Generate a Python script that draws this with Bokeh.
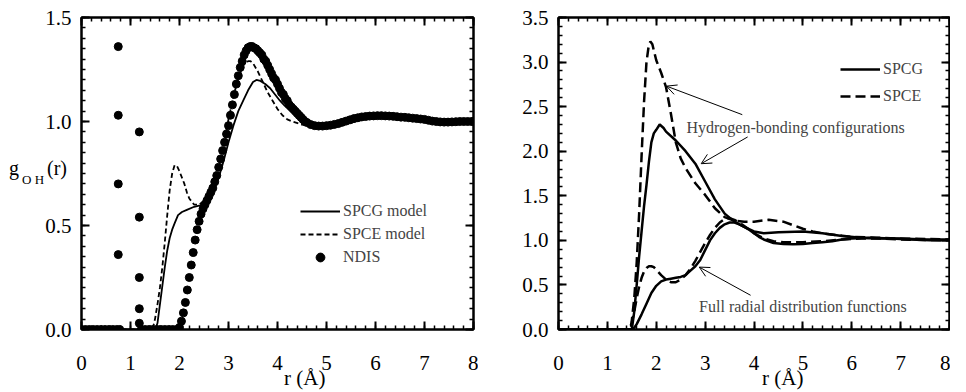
from bokeh.plotting import figure
from bokeh.models import (Range1d, SingleIntervalTicker, LinearAxis, NumeralTickFormatter,
                          Label, Legend, LegendItem, Arrow, OpenHead, CustomJSTickFormatter, Div)
from bokeh.layouts import row
from bokeh.embed import file_html
from bokeh.resources import INLINE

FONT = "Liberation Serif"

# ---------------- Left panel data: g_OH(r) ----------------
# NDIS (experimental) points
ndis_r = [0.00, 0.08, 0.16, 0.24, 0.32, 0.40, 0.48, 0.56, 0.64, 0.72, 0.78,
          0.75, 0.75, 0.75, 0.75,
          1.18, 1.18, 1.18, 1.18, 1.18,
          1.22, 1.30, 1.38, 1.46, 1.54, 1.62, 1.70, 1.78, 1.86, 1.94, 2.00,
          2.04, 2.08, 2.12, 2.16, 2.20, 2.24, 2.28, 2.32, 2.36, 2.40, 2.44, 2.48,
          2.52, 2.56, 2.60, 2.64, 2.68, 2.72, 2.76, 2.80, 2.84, 2.88, 2.92, 2.96,
          3.00, 3.04, 3.08, 3.12, 3.16, 3.20, 3.24, 3.28, 3.32, 3.36, 3.40, 3.44,
          3.48, 3.52, 3.56, 3.60, 3.64, 3.68, 3.72, 3.76, 3.80, 3.84, 3.88, 3.92,
          3.96, 4.00, 4.04, 4.08, 4.12, 4.16, 4.20, 4.24, 4.28, 4.32, 4.36, 4.40,
          4.44, 4.48, 4.52, 4.56, 4.60,
          4.68, 4.76, 4.84, 4.92, 5.00, 5.08, 5.16, 5.24, 5.32, 5.40, 5.48, 5.56,
          5.64, 5.72, 5.80, 5.88, 5.96, 6.04, 6.12, 6.20, 6.28, 6.36, 6.44, 6.52,
          6.60, 6.68, 6.76, 6.84, 6.92, 7.00, 7.08, 7.16, 7.24, 7.32, 7.40, 7.48,
          7.56, 7.64, 7.72, 7.80, 7.88, 7.96, 8.00]
ndis_g = [0.0, 0.0, 0.0, 0.0, 0.0, 0.0, 0.0, 0.0, 0.0, 0.0, 0.0,
          1.36, 1.03, 0.70, 0.36,
          0.95, 0.54, 0.25, 0.10, 0.03,
          0.0, 0.0, 0.0, 0.0, 0.0, 0.0, 0.0, 0.0, 0.0, 0.0, 0.01,
          0.04, 0.08, 0.13, 0.19, 0.25, 0.31, 0.37, 0.43, 0.48, 0.52, 0.555, 0.58,
          0.60, 0.62, 0.64, 0.66, 0.68, 0.71, 0.74, 0.78, 0.82, 0.86, 0.90, 0.94,
          0.98, 1.03, 1.08, 1.13, 1.18, 1.22, 1.26, 1.29, 1.32, 1.34, 1.355, 1.36,
          1.36, 1.355, 1.35, 1.34, 1.33, 1.32, 1.30, 1.29, 1.27, 1.25, 1.23, 1.21,
          1.20, 1.18, 1.16, 1.14, 1.13, 1.11, 1.10, 1.08, 1.07, 1.06, 1.05, 1.04,
          1.03, 1.02, 1.01, 1.00, 0.995,
          0.985, 0.98, 0.978, 0.978, 0.98, 0.982, 0.986, 0.99, 0.996, 1.002, 1.008, 1.014,
          1.018, 1.022, 1.024, 1.026, 1.027, 1.028, 1.028, 1.027, 1.026, 1.025, 1.023, 1.021,
          1.02, 1.018, 1.016, 1.014, 1.012, 1.01, 1.006, 1.002, 1.0, 0.998, 0.997, 0.997,
          0.998, 0.999, 1.0, 1.0, 1.0, 1.0, 1.0]

# SPCG model (simulation)
spcg_r = [0.0, 1.50, 1.55, 1.60, 1.65, 1.70, 1.75, 1.80, 1.85, 1.90, 1.97, 2.05, 2.15,
          2.30, 2.40, 2.50, 2.60, 2.70, 2.80, 2.90, 3.00, 3.10, 3.20, 3.30, 3.40,
          3.50, 3.57, 3.65, 3.75, 3.85, 3.95, 4.05, 4.15, 4.25, 4.35, 4.45, 4.55,
          4.70, 4.90, 5.20, 5.50, 5.80, 6.10, 6.40, 6.80, 7.20, 7.60, 8.00]
spcg_g = [0.0, 0.0, 0.03, 0.12, 0.21, 0.30, 0.38, 0.44, 0.48, 0.51, 0.55, 0.565, 0.575,
          0.59, 0.595, 0.605, 0.63, 0.67, 0.73, 0.81, 0.90, 0.98, 1.05, 1.10, 1.15,
          1.19, 1.20, 1.195, 1.18, 1.16, 1.13, 1.10, 1.075, 1.055, 1.035, 1.02, 1.005,
          0.99, 0.98, 0.982, 0.995, 1.015, 1.025, 1.025, 1.018, 1.008, 1.0, 1.0]

# SPCE model (simulation)
spce_r = [0.0, 1.45, 1.50, 1.55, 1.60, 1.65, 1.70, 1.75, 1.80, 1.85, 1.90, 1.95,
          2.00, 2.05, 2.10, 2.15, 2.20, 2.30, 2.40, 2.50, 2.60, 2.70, 2.80, 2.90,
          3.00, 3.10, 3.20, 3.30, 3.40, 3.45, 3.50, 3.60, 3.70, 3.80, 3.90, 4.00,
          4.10, 4.20, 4.30, 4.50, 4.80, 5.20, 5.60, 6.00, 6.50, 7.00, 7.50, 8.00]
spce_g = [0.0, 0.0, 0.05, 0.12, 0.20, 0.30, 0.42, 0.55, 0.67, 0.75, 0.79, 0.785,
          0.76, 0.73, 0.70, 0.66, 0.63, 0.60, 0.60, 0.62, 0.66, 0.72, 0.80, 0.90,
          1.01, 1.12, 1.21, 1.27, 1.29, 1.29, 1.28, 1.24, 1.19, 1.14, 1.10, 1.06,
          1.03, 1.01, 1.00, 0.985, 0.98, 0.985, 1.005, 1.02, 1.02, 1.01, 1.0, 1.0]

# ---------------- Right panel data ----------------
# Full radial distribution functions
full_spcg_r = [0.0, 1.50, 1.55, 1.60, 1.70, 1.80, 1.90, 2.00, 2.10, 2.20, 2.30, 2.40,
               2.50, 2.60, 2.70, 2.80, 2.90, 3.00, 3.10, 3.20, 3.30, 3.40, 3.50, 3.60,
               3.70, 3.80, 3.90, 4.00, 4.10, 4.20, 4.30, 4.40, 4.60, 4.80, 5.00, 5.20,
               5.40, 5.60, 5.80, 6.00, 6.40, 6.80, 7.20, 7.60, 8.00]
full_spcg_g = [0.0, 0.0, 0.02, 0.06, 0.17, 0.29, 0.41, 0.49, 0.54, 0.56, 0.57, 0.58,
               0.59, 0.61, 0.66, 0.71, 0.78, 0.89, 1.00, 1.08, 1.14, 1.18, 1.20, 1.20,
               1.18, 1.15, 1.12, 1.08, 1.04, 1.01, 0.99, 0.97, 0.96, 0.955, 0.96, 0.97,
               0.98, 0.99, 1.01, 1.02, 1.03, 1.02, 1.01, 1.0, 1.0]
full_spce_r = [0.0, 1.45, 1.50, 1.55, 1.60, 1.65, 1.70, 1.75, 1.80, 1.85, 1.90, 1.95,
               2.00, 2.10, 2.20, 2.30, 2.40, 2.50, 2.60, 2.70, 2.80, 2.90, 3.00, 3.10,
               3.20, 3.30, 3.40, 3.50, 3.60, 3.70, 3.80, 3.90, 4.00, 4.10, 4.20, 4.40,
               4.60, 5.00, 5.40, 5.80, 6.20, 6.60, 7.00, 8.00]
full_spce_g = [0.0, 0.0, 0.08, 0.20, 0.35, 0.48, 0.58, 0.65, 0.69, 0.71, 0.71, 0.70,
               0.67, 0.61, 0.56, 0.53, 0.53, 0.56, 0.61, 0.68, 0.77, 0.87, 0.97, 1.06,
               1.14, 1.20, 1.24, 1.25, 1.23, 1.20, 1.16, 1.12, 1.08, 1.05, 1.02, 0.99,
               0.98, 0.98, 0.99, 1.01, 1.02, 1.02, 1.01, 1.0]
# Hydrogen-bonding configurations
hb_spcg_r = [0.0, 1.50, 1.55, 1.60, 1.65, 1.70, 1.75, 1.80, 1.85, 1.90, 1.95, 2.00,
             2.07, 2.15, 2.20, 2.40, 2.60, 2.80, 3.00, 3.20, 3.40, 3.60, 3.80, 4.00,
             4.20, 4.50, 5.00, 5.40, 5.80, 6.20, 6.60, 7.00, 7.50, 8.00]
hb_spcg_g = [0.0, 0.0, 0.20, 0.50, 0.82, 1.10, 1.38, 1.62, 1.88, 2.10, 2.20, 2.24,
             2.30, 2.26, 2.22, 2.12, 2.00, 1.86, 1.66, 1.46, 1.30, 1.21, 1.15, 1.10,
             1.08, 1.09, 1.10, 1.08, 1.05, 1.03, 1.02, 1.02, 1.01, 1.01]
hb_spce_r = [0.0, 1.48, 1.55, 1.60, 1.65, 1.70, 1.75, 1.80, 1.85, 1.88, 1.92, 2.00,
             2.10, 2.20, 2.30, 2.40, 2.50, 2.60, 2.80, 3.00, 3.20, 3.40, 3.60, 3.80,
             4.00, 4.30, 4.60, 4.80, 5.00, 5.20, 5.50, 6.00, 6.50, 7.00, 8.00]
hb_spce_g = [0.0, 0.0, 0.35, 0.75, 1.30, 1.95, 2.55, 3.00, 3.20, 3.23, 3.20, 3.02,
             2.88, 2.72, 2.42, 2.10, 1.92, 1.81, 1.64, 1.51, 1.36, 1.26, 1.22, 1.21,
             1.21, 1.23, 1.21, 1.17, 1.13, 1.10, 1.07, 1.04, 1.03, 1.02, 1.01]

W1, W2, H = 478, 472, 376


def base_fig(width, ymax, border_left, border_right, y_interval, y_minor):
    p = figure(width=width, height=H, x_range=Range1d(0, 8), y_range=Range1d(0, ymax),
               output_backend="svg", toolbar_location=None,
               min_border_left=border_left, min_border_right=border_right,
               min_border_top=17, min_border_bottom=47)
    p.grid.visible = False
    p.outline_line_color = "black"
    p.outline_line_width = 2
    p.background_fill_color = "white"
    p.border_fill_color = "white"
    xt = SingleIntervalTicker(interval=1, num_minor_ticks=5)
    yt = SingleIntervalTicker(interval=y_interval, num_minor_ticks=y_minor)
    p.xaxis.ticker = xt
    p.yaxis.ticker = yt
    p.yaxis.formatter = NumeralTickFormatter(format="0.0")
    for ax in (p.xaxis[0], p.yaxis[0]):
        ax.major_tick_in = 8
        ax.major_tick_out = 0
        ax.minor_tick_in = 4
        ax.minor_tick_out = 0
        ax.axis_line_width = 2
        ax.major_tick_line_width = 2
        ax.minor_tick_line_width = 1.5
        ax.major_label_text_font = FONT
        ax.major_label_text_font_size = "21px"
        ax.major_label_text_color = "black"
    p.xaxis.major_label_standoff = 26
    p.yaxis.major_label_standoff = 10
    blank = CustomJSTickFormatter(code="return ''")
    for loc, t in (("above", xt), ("right", yt)):
        ax = LinearAxis(ticker=t, formatter=blank, major_label_text_font_size="0px",
                        major_label_standoff=0, major_tick_in=8, major_tick_out=0,
                        minor_tick_in=4, minor_tick_out=0, axis_line_width=2,
                        major_tick_line_width=2, minor_tick_line_width=1.5)
        p.add_layout(ax, loc)
    return p


leg_style = dict(background_fill_alpha=0, border_line_alpha=0, padding=0, margin=0,
                 spacing=1, glyph_width=40, label_standoff=3,
                 label_text_font=FONT, label_text_font_size="16px")

# ---------------- Left figure ----------------
p1 = base_fig(W1, 1.5, 81, 5, 0.5, 10)
r_spcg = p1.line(spcg_r, spcg_g, line_color="black", line_width=1.8)
r_spce = p1.line(spce_r, spce_g, line_color="black", line_width=1.8, line_dash="5 3")
r_ndis = p1.scatter(ndis_r, ndis_g, size=8, fill_color="black", line_color="black")

leg1 = Legend(items=[LegendItem(label="SPCG model", renderers=[r_spcg]),
                     LegendItem(label="SPCE model", renderers=[r_spce]),
                     LegendItem(label="NDIS", renderers=[r_ndis])],
              location=(219, 61), orientation="vertical", glyph_height=22, label_height=22,
              **leg_style)
p1.add_layout(leg1)

# ---------------- Right figure ----------------
p2 = base_fig(W2, 3.5, 80, 1, 0.5, 5)
q_fg = p2.line(full_spcg_r, full_spcg_g, line_color="black", line_width=2.5)
q_fe = p2.line(full_spce_r, full_spce_g, line_color="black", line_width=2.5, line_dash="10 5")
q_hg = p2.line(hb_spcg_r, hb_spcg_g, line_color="black", line_width=2.5)
q_he = p2.line(hb_spce_r, hb_spce_g, line_color="black", line_width=2.5, line_dash="10 5")

leg2 = Legend(items=[LegendItem(label="SPCG", renderers=[q_hg]),
                     LegendItem(label="SPCE", renderers=[q_he])],
              location=(282, 220), orientation="vertical", glyph_height=26, label_height=26,
              **leg_style)
p2.add_layout(leg2)

p2.add_layout(Label(x=4.85, y=2.27, text="Hydrogen-bonding configurations", text_font=FONT,
                    text_font_size="16px", text_align="center", text_baseline="middle"))
p2.add_layout(Label(x=5.0, y=0.255, text="Full radial distribution functions", text_font=FONT,
                    text_font_size="16px", text_align="center", text_baseline="middle"))
for xs, ys, xe, ye in ((3.76, 2.41, 2.21, 2.73), (3.87, 2.16, 2.92, 1.86), (3.93, 0.384, 2.88, 0.70)):
    p2.add_layout(Arrow(end=OpenHead(size=10, line_width=1, line_color="black"),
                        x_start=xs, y_start=ys, x_end=xe, y_end=ye,
                        line_width=1, line_color="black"))

# ---------------- Axis titles (HTML text, placed over the plot borders) ----------------
span = "font-family:'Liberation Serif';color:black;line-height:1;white-space:nowrap;"
ylab = Div(text=("<span style=\"%sfont-size:20px\">g<span style=\"font-size:13px;position:relative;"
                 "top:9px;margin-left:3px\">O H</span><span style=\"margin-left:3px\">(r)</span></span>") % span,
           styles={"position": "absolute", "left": "4px", "top": "153px", "z-index": "10"})
xlab1 = Div(text="<span style=\"%sfont-size:21px\">r (Å)</span>" % span,
            styles={"position": "absolute", "left": "279px", "top": "363px", "z-index": "10"})
xlab2 = Div(text="<span style=\"%sfont-size:21px\">r (Å)</span>" % span,
            styles={"position": "absolute", "left": "757px", "top": "363px", "z-index": "10"})

layout = row(p1, p2, ylab, xlab1, xlab2)
open("out.html", "w").write(file_html(layout, INLINE))
